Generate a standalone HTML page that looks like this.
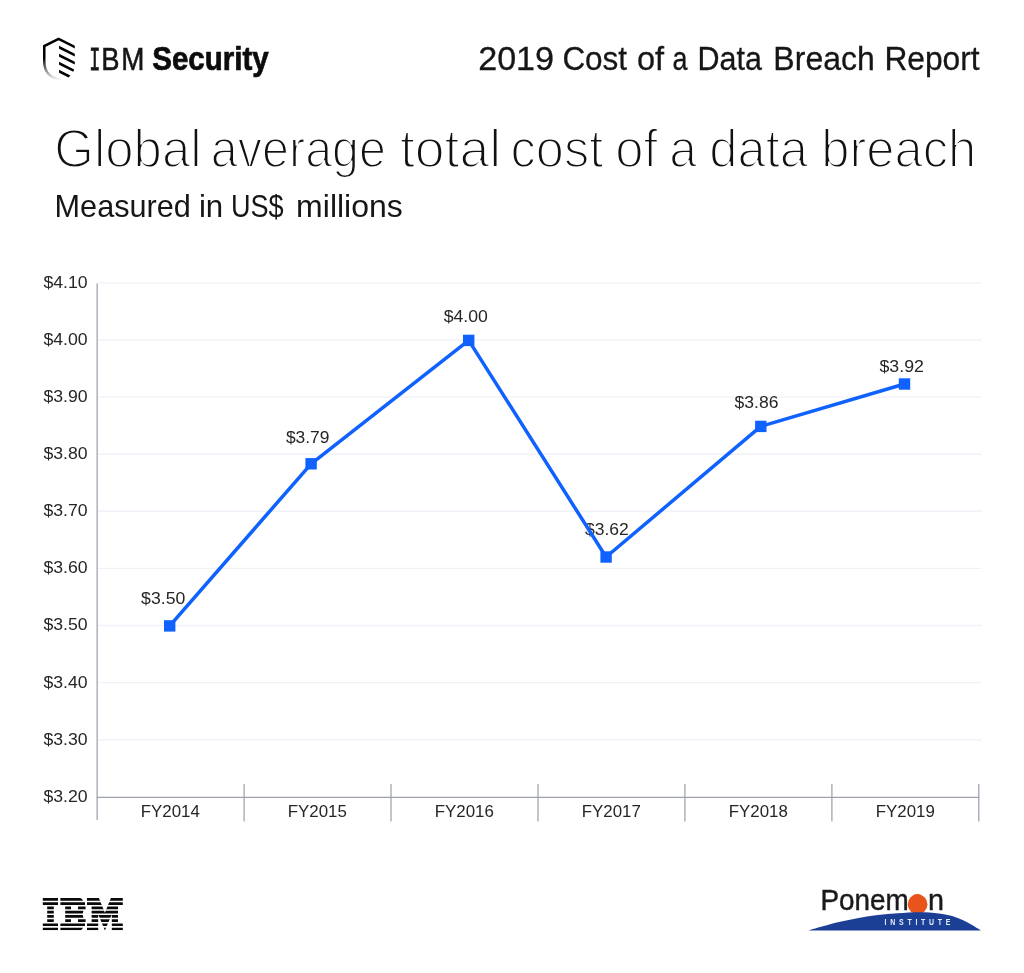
<!DOCTYPE html>
<html lang="en">
<head>
<meta charset="utf-8">
<title>2019 Cost of a Data Breach Report</title>
<style>
html,body{margin:0;padding:0;background:#fff;}
body{width:1024px;height:973px;overflow:hidden;position:relative;font-family:"Liberation Sans",sans-serif;}
svg{position:absolute;left:0;top:0;display:block;}
svg{font-family:"Liberation Sans",sans-serif;}
.ax{fill:#262626;font-size:17.2px;}
.grid line{stroke:#f0f2f7;stroke-width:1.4;}
.axis line{stroke:#9ea2ae;stroke-width:1.25;}
</style>
</head>
<body>
<svg width="1024" height="973" viewBox="0 0 1024 973">
  <defs>
    <linearGradient id="shg" gradientUnits="userSpaceOnUse" x1="0" y1="38" x2="0" y2="80.5">
      <stop offset="0" stop-color="#000"/>
      <stop offset="0.47" stop-color="#000"/>
      <stop offset="1" stop-color="#000" stop-opacity="0"/>
    </linearGradient>
  </defs>

  <!-- header: shield icon -->
  <g id="shield">
    <clipPath id="shc"><rect x="40" y="30" width="34.8" height="60"/></clipPath>
    <path d="M78 48.65 L58.6 38.95 L44.25 46.15 L44.25 61.5 C44.25 72 50.5 78.4 61 79.9" fill="none" stroke="url(#shg)" stroke-width="2.55" stroke-linejoin="miter" stroke-miterlimit="10" clip-path="url(#shc)"/>
    <g fill="#000">
      <path d="M59.05 45.8 L74.8 53.7 L74.8 56.6 L59.05 48.7 Z"/>
      <path d="M59.05 53.8 L74.8 61.7 L74.8 64.6 L59.05 56.7 Z"/>
      <path d="M59.05 61.8 L74.2 69.4 L73.2 71.8 L59.05 64.7 Z"/>
      <path d="M59.05 69.8 L70.4 75.5 L68.6 77.4 L59.05 72.7 Z"/>
    </g>
  </g>


  <!-- text blocks -->
  <text id="t-ibmI"><tspan x="89.26" y="69.5" font-size="32.6" fill="#161616" stroke="#161616" stroke-width="0.8" font-family="Liberation Mono, monospace" textLength="11.13" lengthAdjust="spacingAndGlyphs">I</tspan><tspan x="101.28" y="69.5" font-size="30.6" fill="#161616" stroke="#161616" stroke-width="0.55" textLength="18.26" lengthAdjust="spacingAndGlyphs">B</tspan><tspan x="121.30" y="69.5" font-size="30.6" fill="#161616" stroke="#161616" stroke-width="0.55" textLength="23.15" lengthAdjust="spacingAndGlyphs">M</tspan> <tspan x="152.28" y="70.2" font-size="32.5" fill="#0c0c0c" stroke="#0c0c0c" stroke-width="0.7" font-weight="700" textLength="116.48" lengthAdjust="spacingAndGlyphs">Security</tspan></text>
  <text id="t-hdr"><tspan x="478.16" y="70.3" font-size="33.8" fill="#161616" stroke="#161616" stroke-width="0.3" textLength="75.90" lengthAdjust="spacingAndGlyphs">2019</tspan> <tspan x="562.40" y="70.3" font-size="33.8" fill="#161616" stroke="#161616" stroke-width="0.3" textLength="64.72" lengthAdjust="spacingAndGlyphs">Cost</tspan> <tspan x="636.96" y="70.3" font-size="33.8" fill="#161616" stroke="#161616" stroke-width="0.3" textLength="27.17" lengthAdjust="spacingAndGlyphs">of</tspan> <tspan x="672.46" y="70.3" font-size="33.8" fill="#161616" stroke="#161616" stroke-width="0.3" textLength="14.99" lengthAdjust="spacingAndGlyphs">a</tspan> <tspan x="697.62" y="70.3" font-size="33.8" fill="#161616" stroke="#161616" stroke-width="0.3" textLength="64.35" lengthAdjust="spacingAndGlyphs">Data</tspan> <tspan x="773.36" y="70.3" font-size="33.8" fill="#161616" stroke="#161616" stroke-width="0.3" textLength="101.45" lengthAdjust="spacingAndGlyphs">Breach</tspan> <tspan x="884.38" y="70.3" font-size="33.8" fill="#161616" stroke="#161616" stroke-width="0.3" textLength="95.30" lengthAdjust="spacingAndGlyphs">Report</tspan></text>
  <text id="t-title"><tspan x="54.30" y="167" font-size="54" fill="#111" stroke="#fff" stroke-width="2" textLength="147.24" lengthAdjust="spacingAndGlyphs">Global</tspan> <tspan x="210.84" y="167" font-size="54" fill="#111" stroke="#fff" stroke-width="2" textLength="175.19" lengthAdjust="spacingAndGlyphs">average</tspan> <tspan x="399.92" y="167" font-size="54" fill="#111" stroke="#fff" stroke-width="2" textLength="101.25" lengthAdjust="spacingAndGlyphs">total</tspan> <tspan x="510.58" y="167" font-size="54" fill="#111" stroke="#fff" stroke-width="2" textLength="92.71" lengthAdjust="spacingAndGlyphs">cost</tspan> <tspan x="615.32" y="167" font-size="54" fill="#111" stroke="#fff" stroke-width="2" textLength="42.38" lengthAdjust="spacingAndGlyphs">of</tspan> <tspan x="669.32" y="167" font-size="54" fill="#111" stroke="#fff" stroke-width="2" textLength="27.60" lengthAdjust="spacingAndGlyphs">a</tspan> <tspan x="709.34" y="167" font-size="54" fill="#111" stroke="#fff" stroke-width="2" textLength="98.66" lengthAdjust="spacingAndGlyphs">data</tspan> <tspan x="821.26" y="167" font-size="54" fill="#111" stroke="#fff" stroke-width="2" textLength="155.05" lengthAdjust="spacingAndGlyphs">breach</tspan></text>
  <text id="t-sub"><tspan x="54.60" y="217" font-size="31.4" fill="#161616" textLength="136.26" lengthAdjust="spacingAndGlyphs">Measured</tspan> <tspan x="198.90" y="217" font-size="31.4" fill="#161616" textLength="24.31" lengthAdjust="spacingAndGlyphs">in</tspan> <tspan x="230.88" y="217" font-size="31.4" fill="#161616" textLength="52.70" lengthAdjust="spacingAndGlyphs">US$</tspan> <tspan x="296.14" y="217" font-size="31.4" fill="#161616" textLength="106.70" lengthAdjust="spacingAndGlyphs">millions</tspan></text>
  <text id="t-xl"><tspan x="140.80" y="816.8" font-size="17.2" fill="#262626" textLength="59.02" lengthAdjust="spacingAndGlyphs">FY2014</tspan> <tspan x="287.80" y="816.8" font-size="17.2" fill="#262626" textLength="59.09" lengthAdjust="spacingAndGlyphs">FY2015</tspan> <tspan x="434.80" y="816.8" font-size="17.2" fill="#262626" textLength="59.09" lengthAdjust="spacingAndGlyphs">FY2016</tspan> <tspan x="581.80" y="816.8" font-size="17.2" fill="#262626" textLength="59.09" lengthAdjust="spacingAndGlyphs">FY2017</tspan> <tspan x="728.80" y="816.8" font-size="17.2" fill="#262626" textLength="59.09" lengthAdjust="spacingAndGlyphs">FY2018</tspan> <tspan x="875.80" y="816.8" font-size="17.2" fill="#262626" textLength="59.09" lengthAdjust="spacingAndGlyphs">FY2019</tspan></text>

  <!-- grid -->
  <g class="grid">
    <line x1="97.5" y1="282.9" x2="981.5" y2="282.9"/>
    <line x1="97.5" y1="340.0" x2="981.5" y2="340.0"/>
    <line x1="97.5" y1="397.1" x2="981.5" y2="397.1"/>
    <line x1="97.5" y1="454.2" x2="981.5" y2="454.2"/>
    <line x1="97.5" y1="511.3" x2="981.5" y2="511.3"/>
    <line x1="97.5" y1="568.4" x2="981.5" y2="568.4"/>
    <line x1="97.5" y1="625.5" x2="981.5" y2="625.5"/>
    <line x1="97.5" y1="682.6" x2="981.5" y2="682.6"/>
    <line x1="97.5" y1="739.7" x2="981.5" y2="739.7"/>
  </g>

  <!-- axes -->
  <g class="axis">
    <line x1="97.15" y1="283.6" x2="97.15" y2="820"/>
    <line x1="96.6" y1="797.3" x2="979.3" y2="797.3" stroke-width="1.5"/>
    <line x1="244.1" y1="784" x2="244.1" y2="821.5"/>
    <line x1="391.0" y1="784" x2="391.0" y2="821.5"/>
    <line x1="538.0" y1="784" x2="538.0" y2="821.5"/>
    <line x1="684.9" y1="784" x2="684.9" y2="821.5"/>
    <line x1="831.9" y1="784" x2="831.9" y2="821.5"/>
    <line x1="978.8" y1="784" x2="978.8" y2="821.5"/>
  </g>

  <!-- y labels -->
  <g class="ax">
    <text x="43.4" y="287.5" textLength="44.2" lengthAdjust="spacingAndGlyphs">$4.10</text>
    <text x="43.4" y="344.6" textLength="44.2" lengthAdjust="spacingAndGlyphs">$4.00</text>
    <text x="43.4" y="401.8" textLength="44.2" lengthAdjust="spacingAndGlyphs">$3.90</text>
    <text x="43.4" y="458.9" textLength="44.2" lengthAdjust="spacingAndGlyphs">$3.80</text>
    <text x="43.4" y="516.1" textLength="44.2" lengthAdjust="spacingAndGlyphs">$3.70</text>
    <text x="43.4" y="573.2" textLength="44.2" lengthAdjust="spacingAndGlyphs">$3.60</text>
    <text x="43.4" y="630.4" textLength="44.2" lengthAdjust="spacingAndGlyphs">$3.50</text>
    <text x="43.4" y="687.5" textLength="44.2" lengthAdjust="spacingAndGlyphs">$3.40</text>
    <text x="43.4" y="744.7" textLength="44.2" lengthAdjust="spacingAndGlyphs">$3.30</text>
    <text x="43.4" y="801.9" textLength="44.2" lengthAdjust="spacingAndGlyphs">$3.20</text>
  </g>
  <!-- x labels -->

  <!-- data labels -->
  <g class="ax">
    <text x="141.1" y="603.7" textLength="44.2" lengthAdjust="spacingAndGlyphs">$3.50</text>
    <text x="285.9" y="442.7" textLength="43.6" lengthAdjust="spacingAndGlyphs">$3.79</text>
    <text x="443.7" y="322.4" textLength="44.2" lengthAdjust="spacingAndGlyphs">$4.00</text>
    <text x="585" y="534.6" textLength="43.8" lengthAdjust="spacingAndGlyphs">$3.62</text>
    <text x="734.6" y="408" textLength="43.9" lengthAdjust="spacingAndGlyphs">$3.86</text>
    <text x="879.5" y="372.2" textLength="44.4" lengthAdjust="spacingAndGlyphs">$3.92</text>
  </g>
  <!-- series -->
  <polyline points="169.7,625.9 311.1,463.8 468.7,340.4 606.1,557 760.8,426.4 904.5,384" fill="none" stroke="#0f62fe" stroke-width="3.5" stroke-linejoin="round"/>
  <g fill="#0f62fe">
    <rect x="164" y="620.2" width="11.4" height="11.4"/>
    <rect x="305.4" y="458.1" width="11.4" height="11.4"/>
    <rect x="463" y="334.7" width="11.4" height="11.4"/>
    <rect x="600.4" y="551.3" width="11.4" height="11.4"/>
    <rect x="755.1" y="420.7" width="11.4" height="11.4"/>
    <rect x="898.8" y="378.3" width="11.4" height="11.4"/>
  </g>

  <!-- IBM 8-bar logo -->
  <g id="ibm">
    <clipPath id="bars"><rect x="40" y="898.10" width="86" height="2.55"/><rect x="40" y="902.35" width="86" height="2.55"/><rect x="40" y="906.59" width="86" height="2.55"/><rect x="40" y="910.84" width="86" height="2.55"/><rect x="40" y="915.08" width="86" height="2.55"/><rect x="40" y="919.33" width="86" height="2.55"/><rect x="40" y="923.57" width="86" height="2.55"/><rect x="40" y="927.82" width="86" height="2.55"/></clipPath>
    <g clip-path="url(#bars)" fill="#0a0a0a" fill-rule="evenodd">
      <path d="M42.8 898.1 H58 V905.74 H53.8 V922.72 H58 V930.37 H42.8 V922.72 H47.2 V905.74 H42.8 Z"/>
      <path d="M60.4 898.1 H79.5 Q82.2 898.1 83.2 901.50 H85 V905.74 H85.6 V909.99 H83.6 L82.6 914.23 L83.6 918.48 H85.6 V922.72 H85 V926.97 H83.2 Q82.2 930.37 79.5 930.37 H60.4 V922.72 H65.2 V905.74 H60.4 Z M71 905.74 V909.99 H78 V905.74 Z M71 918.48 V922.72 H78 V918.48 Z"/>
      <path d="M87 898.1 H98.9 L104.9 912.8 L110.9 898.1 H122.8 V905.74 H118 V922.72 H122.8 V930.37 H111.8 V914.23 L104.9 930.6 L98.2 914.23 V930.37 H87 V922.72 H91.6 V905.74 H87 Z"/>
    </g>
  </g>

  <!-- Ponemon logo -->
  <g id="ponemon">
    <text font-size="29.6" fill="#1a1a1a" stroke="#1a1a1a" stroke-width="0.45"><tspan x="820.4" y="910" textLength="88.3" lengthAdjust="spacingAndGlyphs">Ponem</tspan><tspan x="909.6" y="910" fill="#e9531c" stroke="none" textLength="15.6" lengthAdjust="spacingAndGlyphs">o</tspan><tspan x="928.1" y="910" textLength="16" lengthAdjust="spacingAndGlyphs">n</tspan></text>
    <circle cx="917.6" cy="904.3" r="9.85" fill="#e9531c"/>
    <path d="M808.3 930.6 C810.6 929.9 816.9 928.0 822 926.6 C827.1 925.2 832.9 923.4 839 922 C845.1 920.6 852.1 919.1 858.6 918 C865.1 916.9 871.5 915.9 878 915.1 C884.5 914.3 890.9 913.7 897.7 913.2 C904.5 912.7 912.1 912.2 919 912.2 C925.9 912.2 933.6 912.8 938.8 913.4 C944.0 914.0 946.7 914.8 950 915.6 C953.3 916.4 955.4 917.1 958.4 918.3 C961.4 919.5 964.9 921.0 968.1 922.7 C971.4 924.4 975.8 927.3 977.9 928.6 C980.0 929.9 980.5 930.3 981 930.6 Z" fill="#1c3f96"/>
    <text transform="translate(884.6 925.3) scale(0.78 1)" font-size="8.9" font-weight="700" fill="#e6ecfa" textLength="84.5" lengthAdjust="spacing">INSTITUTE</text>
  </g>

</svg>
</body>
</html>
